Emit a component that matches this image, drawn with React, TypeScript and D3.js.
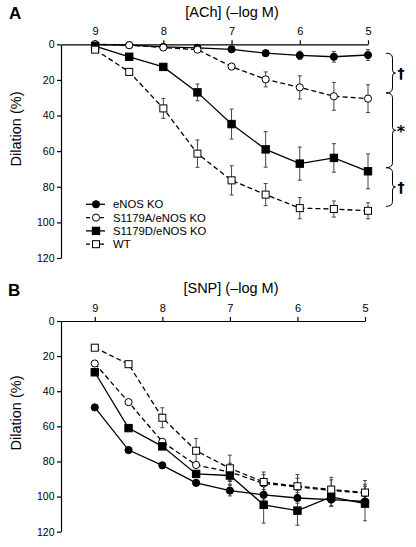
import React, { useEffect, useRef } from "react";
import * as d3 from "d3";

const logLevels = [9, 8.5, 8, 7.5, 7, 6.5, 6, 5.5, 5];
const xTickValues = [9, 8, 7, 6, 5];
const yTickValues = [0, 20, 40, 60, 80, 100, 120];

const seriesNames = ["eNOS KO", "S1179A/eNOS KO", "S1179D/eNOS KO", "WT"];

// Panel A (ACh)
const achENOSKO = [0, 0.5, 1.5, 2, 2.8, 5, 6.2, 7, 6];
const achENOSKOErr = [0, 0, 0, 0, 1, 1.5, 2.3, 3, 3];
const achS1179A = [0, 0.5, 1.8, 3, 12.5, 19.7, 24.2, 29.2, 30.5];
const achS1179AErr = [0, 0, 0, 0, 0, 4.2, 6.5, 7.8, 7.8];
const achS1179D = [1, 7, 12.7, 27, 44.8, 59, 67, 63.8, 71.3];
const achS1179DErr = [0, 0, 0, 4.7, 8.4, 10, 9.3, 8, 9.8];
const achWT = [3, 15.5, 36, 61.4, 76.4, 84.4, 92, 92.5, 93.5];
const achWTErr = [0, 0, 5.6, 7.7, 8.2, 6.2, 6, 4.5, 4.5];

// Panel B (SNP)
const snpENOSKO = [49.2, 73.5, 82.2, 92.2, 96.6, 99, 100.8, 101.7, 102.8];
const snpENOSKOErr = [0, 0, 0, 0, 3, 3, 3, 4, 3];
const snpS1179A = [24.2, 46.2, 68.8, 82, 86, 92.5, 94.5, 96.5, 98];
const snpS1179AErr = [0, 0, 0, 0, 5, 5, 5, 6, 5];
const snpS1179D = [29.2, 61, 71.4, 87.1, 88, 104.7, 108, 100.2, 104];
const snpS1179DErr = [0, 0, 0, 0, 5, 10.4, 8.3, 5, 9.8];
const snpWT = [15.2, 24.6, 55.1, 73.9, 83.9, 91.7, 94.1, 96, 97.7];
const snpWTErr = [0, 0, 5.7, 7, 7.5, 5.7, 6.6, 7, 6.8];

// significance braces (panel A), in dilation units
const braceSpans = [
  [5, 27.3],
  [27.3, 69.3],
  [69.3, 91],
];
const braceLabels = ["†", "*", "†"];

const FONT = "'Liberation Sans', Arial, Helvetica, sans-serif";

type Style = { filled: boolean; shape: "circle" | "square"; dashed: boolean };
const styles: Style[] = [
  { filled: true, shape: "circle", dashed: false },
  { filled: false, shape: "circle", dashed: true },
  { filled: true, shape: "square", dashed: false },
  { filled: false, shape: "square", dashed: true },
];

function Marker({ x, y, st }: { x: number; y: number; st: Style }) {
  const fill = st.filled ? "#000" : "#fff";
  if (st.shape === "circle") {
    return <circle cx={x} cy={y} r={3.6} fill={fill} stroke="#000" strokeWidth={1} />;
  }
  const s = st.filled ? 7.4 : 7;
  return <rect x={x - s / 2} y={y - s / 2} width={s} height={s} fill={fill} stroke="#000" strokeWidth={1} />;
}

function Axes({ x, y, top, left }: { x: any; y: any; top: number; left: number }) {
  const xRef = useRef<SVGGElement>(null);
  const yRef = useRef<SVGGElement>(null);
  useEffect(() => {
    const gx = d3.select(xRef.current);
    gx.call(
      d3.axisTop(x).tickValues(xTickValues).tickFormat(d3.format("d")).tickSize(4).tickSizeOuter(0).tickPadding(5) as any
    );
    gx.selectAll("text").attr("font-size", 11).attr("font-family", FONT);
    gx.selectAll("path,line").attr("stroke", "#000").attr("stroke-width", 1.2);
    const gy = d3.select(yRef.current);
    gy.call(
      d3.axisLeft(y).tickValues(yTickValues).tickSize(4).tickSizeOuter(0).tickPadding(2.5) as any
    );
    gy.selectAll("text").attr("font-size", 10.5).attr("font-family", FONT);
    gy.selectAll("path,line").attr("stroke", "#000").attr("stroke-width", 1.2);
  }, [x, y]);
  return (
    <g>
      <g ref={xRef} transform={`translate(0,${top})`} />
      <g ref={yRef} transform={`translate(${left},0)`} />
    </g>
  );
}

function Panel({
  series,
  errors,
  x,
  y,
}: {
  series: number[][];
  errors: number[][];
  x: any;
  y: any;
}) {
  const line = d3
    .line<number>()
    .x((_, i) => x(logLevels[i]))
    .y((d) => y(d));
  return (
    <g>
      {series.map((s, k) => (
        <path
          key={"l" + k}
          d={line(s) || ""}
          fill="none"
          stroke="#000"
          strokeWidth={1.3}
          strokeDasharray={styles[k].dashed ? "5,3" : undefined}
        />
      ))}
      {series.map((s, k) =>
        s.map((v, i) => {
          const e = errors[k][i];
          if (!e) return null;
          const cx = x(logLevels[i]);
          return (
            <g key={`e${k}-${i}`} stroke="#444" strokeWidth={1}>
              <line x1={cx} x2={cx} y1={y(v - e)} y2={y(v + e)} />
              <line x1={cx - 2} x2={cx + 2} y1={y(v - e)} y2={y(v - e)} />
              <line x1={cx - 2} x2={cx + 2} y1={y(v + e)} y2={y(v + e)} />
            </g>
          );
        })
      )}
      {series.map((s, k) =>
        s.map((v, i) => <Marker key={`m${k}-${i}`} x={x(logLevels[i])} y={y(v)} st={styles[k]} />)
      )}
    </g>
  );
}

function bracePath(xTip: number, xSpine: number, y0: number, y1: number) {
  const ym = (y0 + y1) / 2;
  const r = 5;
  return [
    `M${xTip},${y0}`,
    `Q${xSpine},${y0} ${xSpine},${y0 + r}`,
    `L${xSpine},${ym - 3}`,
    `Q${xSpine},${ym} ${xSpine + 3},${ym}`,
    `Q${xSpine},${ym} ${xSpine},${ym + 3}`,
    `L${xSpine},${y1 - r}`,
    `Q${xSpine},${y1} ${xTip},${y1}`,
  ].join(" ");
}

export default function App() {
  const xA = d3.scaleLinear().domain([9.5, 5]).range([61, 368]);
  const yA = d3.scaleLinear().domain([0, 120]).range([44.3, 258]);
  const xB = d3.scaleLinear().domain([9.5, 5]).range([61, 365]);
  const yB = d3.scaleLinear().domain([0, 120]).range([321, 531.7]);

  const legendY = [204.3, 217.6, 230.9, 244.2];

  return (
    <svg
      width={416}
      height={547}
      style={{ position: "absolute", left: 0, top: 0, background: "#fff" }}
      fontFamily={FONT}
    >
      <rect width={416} height={547} fill="#fff" />
      {/* Panel A */}
      <text x={9} y={19} fontSize={17} fontWeight="bold">A</text>
      <text x={232} y={17} fontSize={14.5} textAnchor="middle">[ACh] (–log M)</text>
      <text transform="translate(21,129) rotate(-90)" fontSize={14.5} textAnchor="middle">Dilation (%)</text>
      <Axes x={xA} y={yA} top={yA(0)} left={61} />
      <Panel
        series={[achENOSKO, achS1179A, achS1179D, achWT]}
        errors={[achENOSKOErr, achS1179AErr, achS1179DErr, achWTErr]}
        x={xA}
        y={yA}
      />
      {braceSpans.map((sp, i) => {
        const isStar = braceLabels[i] === "*";
        const cy = (yA(sp[0]) + yA(sp[1])) / 2;
        return (
          <g key={"b" + i}>
            <path d={bracePath(386, 392.5, yA(sp[0]), yA(sp[1]))} fill="none" stroke="#000" strokeWidth={1} />
            <g opacity={0.995}>
              <text
                x={401}
                y={cy + (isStar ? 7 : 5)}
                fontSize={isStar ? 16 : 14}
                fontFamily="'DejaVu Sans', sans-serif"
                fontWeight="bold"
                fill="#000"
                textAnchor="middle"
                transform={`rotate(0.01 401 ${cy})`}
              >
                {braceLabels[i]}
              </text>
            </g>
          </g>
        );
      })}
      {/* Legend */}
      {seriesNames.map((n, i) => (
        <g key={"lg" + i}>
          <line
            x1={86}
            x2={105}
            y1={legendY[i]}
            y2={legendY[i]}
            stroke="#000"
            strokeWidth={1.3}
            strokeDasharray={styles[i].dashed ? "4,3" : undefined}
          />
          <Marker x={96} y={legendY[i]} st={styles[i]} />
          <text x={113} y={legendY[i] + 4} fontSize={11.3}>{n}</text>
        </g>
      ))}

      {/* Panel B */}
      <text x={8} y={296} fontSize={17} fontWeight="bold">B</text>
      <text x={231} y={293} fontSize={14.5} textAnchor="middle">[SNP] (–log M)</text>
      <text transform="translate(21,413) rotate(-90)" fontSize={14.5} textAnchor="middle">Dilation (%)</text>
      <Axes x={xB} y={yB} top={yB(0)} left={61} />
      <Panel
        series={[snpENOSKO, snpS1179A, snpS1179D, snpWT]}
        errors={[snpENOSKOErr, snpS1179AErr, snpS1179DErr, snpWTErr]}
        x={xB}
        y={yB}
      />
    </svg>
  );
}
